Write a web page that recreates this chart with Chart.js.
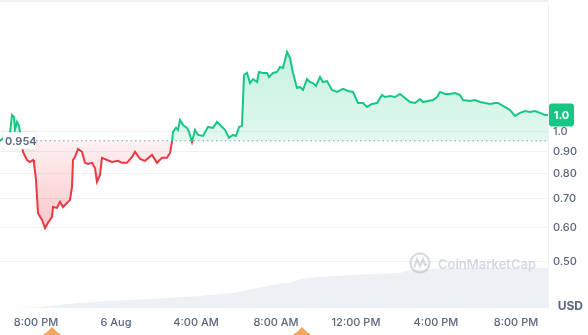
<!DOCTYPE html>
<html>
<head>
<meta charset="utf-8">
<script src="https://cdn.jsdelivr.net/npm/chart.js@4.4.1/dist/chart.umd.min.js"></script>
<style>
  html, body { margin: 0; padding: 0; background: #fff; }
  #wrap { position: relative; width: 588px; height: 335px; }
</style>
</head>
<body>
<div id="wrap"><canvas id="chart"></canvas></div>
<script>
// time in hours from 00:00 on 5 Aug
const priceHours = [18.20,18.70,18.80,18.90,18.95,19.05,19.15,19.35,19.55,19.70,19.85,19.90,20.00,20.10,20.20,20.30,20.45,20.60,
  20.80,20.85,21.05,21.20,21.35,21.55,21.70,21.80,21.85,21.95,22.10,22.30,22.45,22.60,22.80,22.95,23.05,23.20,23.30,23.55,
  23.80,24.10,24.30,24.55,24.80,24.95,25.20,25.45,25.80,26.05,26.30,26.55,26.70,26.80,26.85,27.00,27.10,27.20,27.35,27.55,
  27.65,27.80,27.95,28.10,28.35,28.60,28.85,29.05,29.30,29.45,29.65,29.85,30.00,30.15,30.30,30.40,30.55,30.70,30.85,31.05,
  31.15,31.35,31.55,31.65,31.85,32.05,32.20,32.35,32.55,32.70,32.85,33.05,33.20,33.35,33.55,33.70,33.85,34.00,34.20,34.35,
  34.55,34.80,35.05,35.35,35.60,35.85,36.10,36.35,36.55,36.80,37.05,37.30,37.45,37.70,37.95,38.20,38.45,38.70,38.95,39.20,
  39.35,39.60,39.85,40.05,40.20,40.45,40.70,40.95,41.20,41.35,41.70,41.95,42.20,42.45,42.70,42.95,43.10,43.35,43.70,43.95,
  44.20,44.45,44.70,44.95,45.20,45.45,45.60];
const prices = [0.954,0.995,1.095,1.083,1.011,1.055,1.033,0.899,0.861,0.852,0.861,0.848,0.774,0.649,0.636,0.626,0.599,0.616,
  0.636,0.670,0.667,0.689,0.670,0.685,0.696,0.746,0.861,0.875,0.913,0.899,0.848,0.843,0.848,0.825,0.766,0.795,0.871,0.861,
  0.852,0.857,0.848,0.848,0.875,0.899,0.866,0.857,0.885,0.848,0.871,0.871,0.894,0.948,1.000,1.022,1.011,1.066,1.038,1.022,
  1.000,0.948,1.011,0.984,0.979,1.027,1.022,1.055,1.027,1.011,0.969,0.984,0.979,1.027,1.033,1.355,1.370,1.298,1.326,1.305,
  1.377,1.370,1.370,1.341,1.370,1.377,1.414,1.407,1.532,1.484,1.370,1.264,1.271,1.251,1.326,1.305,1.298,1.278,1.341,1.305,
  1.312,1.251,1.238,1.258,1.244,1.238,1.167,1.167,1.143,1.161,1.167,1.218,1.205,1.212,1.205,1.225,1.199,1.173,1.167,1.192,
  1.173,1.180,1.186,1.205,1.238,1.225,1.225,1.231,1.218,1.186,1.180,1.186,1.173,1.167,1.161,1.167,1.167,1.149,1.124,1.089,
  1.107,1.118,1.112,1.118,1.107,1.095,1.095];

const volumeHours = [18.2,19.7,20.2,21.55,23.2,26.55,28.2,29.85,30.45,32.35,32.7,33.2,34.2,35.7,38.2,38.7,40.7,43.2,45.6];
const volumes = [0,0.5,1,4,6.5,10,12,15,17.5,25,25,29,31,33,35,38,40,40,40];

const openPrice = 0.954;
const lastLabel = '1.0';
const eventHours = [20.8, 33.3];

const xTicks = [20, 24, 28, 32, 36, 40, 44];
const xTickLabels = ['8:00 PM', '6 Aug', '4:00 AM', '8:00 AM', '12:00 PM', '4:00 PM', '8:00 PM'];
const yTicks = [1.0, 0.9, 0.8, 0.7, 0.6, 0.5];
const yTickLabels = ['1.0', '0.90', '0.80', '0.70', '0.60', '0.50'];

const X_MIN = 18.2, X_MAX = 45.6;
const GREEN = '#16c784', RED = '#ea3943', TEXT = '#58667e', GRID = '#eff2f5';

function baseStop(chart) {
  const { chartArea, scales } = chart;
  const yb = scales.y.getPixelForValue(openPrice);
  return { top: chartArea.top, bottom: chartArea.bottom, s: (yb - chartArea.top) / (chartArea.bottom - chartArea.top) };
}

function lineColor(context) {
  const chart = context.chart;
  if (!chart.chartArea) return GREEN;
  const { top, bottom, s } = baseStop(chart);
  const g = chart.ctx.createLinearGradient(0, top, 0, bottom);
  g.addColorStop(0, GREEN); g.addColorStop(s, GREEN);
  g.addColorStop(s, RED); g.addColorStop(1, RED);
  return g;
}

function areaColor(context) {
  const chart = context.chart;
  if (!chart.chartArea) return 'rgba(22,199,132,0.2)';
  const { top, bottom, s } = baseStop(chart);
  const g = chart.ctx.createLinearGradient(0, top, 0, bottom);
  g.addColorStop(0, 'rgba(22,199,132,0.32)');
  g.addColorStop(s, 'rgba(22,199,132,0.12)');
  g.addColorStop(s, 'rgba(234,57,67,0.07)');
  g.addColorStop(Math.min(1, s + 0.28), 'rgba(234,57,67,0.28)');
  g.addColorStop(1, 'rgba(234,57,67,0.28)');
  return g;
}

function roundRect(ctx, x, y, w, h, r) {
  ctx.beginPath();
  ctx.moveTo(x + r, y);
  ctx.arcTo(x + w, y, x + w, y + h, r);
  ctx.arcTo(x + w, y + h, x, y + h, r);
  ctx.arcTo(x, y + h, x, y, r);
  ctx.arcTo(x, y, x + w, y, r);
  ctx.closePath();
}

const decor = {
  id: 'decor',
  beforeDatasetsDraw(chart) {
    const { ctx, chartArea } = chart;
    ctx.save();
    ctx.fillStyle = GRID;
    ctx.fillRect(chartArea.left, chartArea.top - 2, chartArea.right - chartArea.left, 2);
    ctx.restore();
  },
  afterDatasetsDraw(chart) {
    const { ctx, chartArea } = chart;
    ctx.save();
    // watermark
    const col = 'rgba(170,181,202,0.5)';
    const cx = chartArea.right - 128, cy = chartArea.bottom - 45;
    ctx.strokeStyle = col; ctx.lineWidth = 2.2;
    ctx.beginPath(); ctx.arc(cx, cy, 9.5, 0, Math.PI * 2); ctx.stroke();
    ctx.beginPath();
    ctx.moveTo(cx - 5.5, cy + 4); ctx.lineTo(cx - 3, cy - 3.5); ctx.lineTo(cx, cy + 3);
    ctx.lineTo(cx + 3, cy - 3.5); ctx.lineTo(cx + 5, cy + 2); ctx.lineTo(cx + 7, cy + 1);
    ctx.stroke();
    ctx.fillStyle = col;
    ctx.font = '600 14px Inter';
    const w = ctx.measureText('CoinMarketCap').width;
    const size = 14 * 98 / w;
    ctx.font = '600 ' + size.toFixed(2) + 'px Inter';
    ctx.textBaseline = 'middle';
    ctx.textAlign = 'left';
    ctx.fillText('CoinMarketCap', cx + 18, cy + 2);
    ctx.restore();
  },
  afterDraw(chart) {
    const { ctx, chartArea, scales } = chart;
    ctx.save();
    // opening price tag
    const yb = scales.y.getPixelForValue(openPrice);
    ctx.shadowColor = 'rgba(88,102,126,0.18)'; ctx.shadowBlur = 4;
    ctx.fillStyle = '#fff';
    roundRect(ctx, chartArea.left + 3, yb - 8.5, 33, 17, 4); ctx.fill();
    ctx.shadowBlur = 0; ctx.shadowColor = 'transparent';
    ctx.fillStyle = TEXT;
    ctx.font = '600 11px Inter';
    ctx.textBaseline = 'middle'; ctx.textAlign = 'left';
    ctx.fillText(String(openPrice), chartArea.left + 5, yb + 1);
    // last price badge
    const yl = scales.y.getPixelForValue(prices[prices.length - 1]);
    ctx.fillStyle = GREEN;
    roundRect(ctx, chartArea.right + 1, yl - 11.5, 25, 23, 3); ctx.fill();
    ctx.fillStyle = '#fff';
    ctx.font = '700 11px Inter';
    ctx.textAlign = 'center';
    ctx.fillText(lastLabel, chartArea.right + 13.5, yl + 0.5);
    // currency
    ctx.fillStyle = TEXT;
    ctx.font = '700 12px Inter';
    ctx.textAlign = 'right';
    ctx.fillText('USD', chart.width - 5, chartArea.bottom - 2);
    // event markers
    ctx.fillStyle = '#f5a65b';
    eventHours.forEach(h => {
      const ex = scales.x.getPixelForValue(h);
      const top = chart.height - 8;
      ctx.beginPath(); ctx.arc(ex, top + 16, 12, 0, Math.PI * 2); ctx.fill();
      ctx.beginPath(); ctx.moveTo(ex - 5, top + 5); ctx.lineTo(ex, top); ctx.lineTo(ex + 5, top + 5); ctx.fill();
    });
    ctx.restore();
  }
};

new Chart(document.getElementById('chart'), {
  type: 'line',
  data: {
    datasets: [
      {
        data: priceHours.map((h, i) => ({ x: h, y: prices[i] })),
        borderColor: lineColor,
        backgroundColor: areaColor,
        borderWidth: 2,
        pointRadius: 0,
        tension: 0,
        fill: { value: openPrice },
        yAxisID: 'y',
        order: 1
      },
      {
        data: [{ x: X_MIN, y: openPrice }, { x: X_MAX, y: openPrice }],
        borderColor: '#8f9bb3',
        borderWidth: 1,
        borderDash: [1.5, 3],
        pointRadius: 0,
        fill: false,
        yAxisID: 'y',
        order: 2
      },
      {
        data: volumeHours.map((h, i) => ({ x: h, y: volumes[i] })),
        borderWidth: 0,
        borderColor: 'transparent',
        backgroundColor: '#edf0f4',
        pointRadius: 0,
        fill: 'origin',
        yAxisID: 'yv',
        order: 3
      }
    ]
  },
  options: {
    responsive: true,
    maintainAspectRatio: false,
    animation: false,
    events: [],
    layout: { padding: { top: 2, left: 0, right: 0, bottom: 0 } },
    plugins: { legend: { display: false }, tooltip: { enabled: false } },
    scales: {
      x: {
        type: 'linear',
        min: X_MIN,
        max: X_MAX,
        grid: { display: false, drawTicks: false },
        border: { display: false },
        afterBuildTicks: s => { s.ticks = xTicks.map(v => ({ value: v })); },
        afterFit: s => { s.height = 27; s.paddingLeft = 0; s.paddingRight = 0; },
        ticks: {
          autoSkip: false, maxRotation: 0, padding: 8,
          color: TEXT, font: { family: 'Inter', size: 11, weight: '500' },
          callback: (v, i) => xTickLabels[i]
        }
      },
      y: {
        type: 'logarithmic',
        position: 'right',
        min: 0.391,
        max: 2.0,
        grid: { color: GRID, drawTicks: false },
        border: { display: true, color: GRID },
        afterBuildTicks: s => { s.ticks = yTicks.map(v => ({ value: v })); },
        afterFit: s => { s.width = 40; s.paddingTop = 0; s.paddingBottom = 0; },
        ticks: {
          padding: 5,
          color: TEXT, font: { family: 'Inter', size: 11, weight: '500' },
          callback: (v, i) => yTickLabels[i]
        }
      },
      yv: {
        type: 'linear',
        display: false,
        min: 0,
        max: 306
      }
    }
  },
  plugins: [decor]
});
</script>
</body>
</html>
